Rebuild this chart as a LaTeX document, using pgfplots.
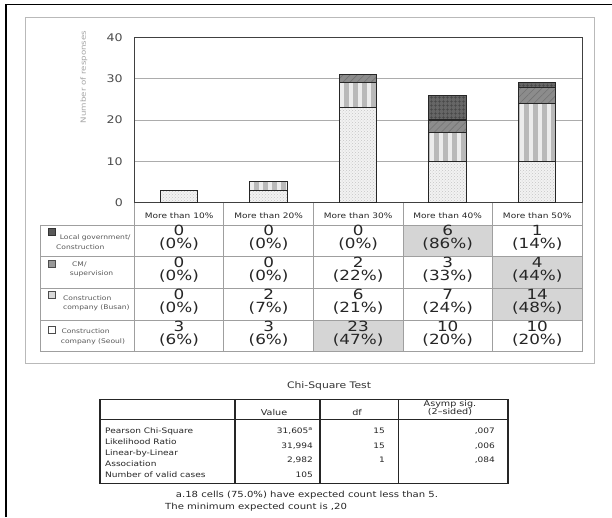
\documentclass[border=0pt]{standalone}
\usepackage{fontspec}
\setmainfont{DejaVu Sans}[FakeStretch=1.2]
\usepackage{pgfplots}
\pgfplotsset{compat=1.18}
\usetikzlibrary{patterns,patterns.meta}
\newcommand{\fs}[1]{\fontsize{#1}{#1}\selectfont}
\begin{document}
\begin{tikzpicture}
\path[use as bounding box] (0,0) rectangle (612pt,517pt);
\fill[white] (0,0) rectangle (612pt,517pt);
\begin{scope}[x=1pt,y=-1pt,yshift=517pt]
  % outer borders
  \draw[black, line width=1.2pt] (6,517) -- (6,4.5) -- (612,4.5);
  \draw[gray!55, line width=0.9pt] (25.5,17.3) rectangle (594,363);
  % shaded cells
  \fill[gray!33] (402.92,225) rectangle (492.46,256.7);
  \fill[gray!33] (492.46,256.7) rectangle (582,288.4);
  \fill[gray!33] (492.46,288.4) rectangle (582,320.1);
  \fill[gray!33] (313.38,320.1) rectangle (402.92,351.7);
  % table lines
  \begin{scope}[gray!75, line width=0.7pt]
    \foreach \yy in {225,256.7,288.4,320.1,351.7} \draw (40,\yy) -- (582,\yy);
    \draw (40,225) -- (40,351.7);
    \foreach \xx in {134.3,223.84,313.38,402.92,492.46,582} \draw (\xx,202.5) -- (\xx,351.7);
  \end{scope}
  % legend markers
  \filldraw[fill=black!65, draw=black!80, line width=0.5pt] (48,228.5) rectangle (55.5,235);
  \filldraw[fill=gray!80, draw=black!70, line width=0.5pt] (48,260.5) rectangle (55.5,267);
  \filldraw[fill=gray!30, draw=black!70, line width=0.5pt] (48,291.5) rectangle (55.5,298);
  \filldraw[fill=white, draw=black!70, line width=0.5pt] (48,326.5) rectangle (55.5,333);
  % row labels
  \begin{scope}[every node/.style={anchor=base west, inner sep=0pt, font=\fs{6.3}, text=black!65}]
    \node at (59.7,239.5) {Local government/};
    \node at (56,249.5) {Construction};
    \node at (72,266.5) {CM/};
    \node at (69.7,275.5) {supervision};
    \node at (63,300) {Construction};
    \node at (63,309.5) {company (Busan)};
    \node at (61.3,333) {Construction};
    \node at (60.7,343.5) {company (Seoul)};
  \end{scope}
  % cell values
  \begin{scope}[every node/.style={anchor=base, inner sep=0pt, font=\fs{14}, text=black!85}]
    \foreach \c/\n/\p in {0/0/0,1/0/0,2/0/0,3/6/86,4/1/14} {
      \pgfmathsetmacro\cx{179.07+89.54*\c}
      \node at (\cx,236) {\n};
      \node at (\cx,249) {(\p\%)};
    }
    \foreach \c/\n/\p in {0/0/0,1/0/0,2/2/22,3/3/33,4/4/44} {
      \pgfmathsetmacro\cx{179.07+89.54*\c}
      \node at (\cx,267.7) {\n};
      \node at (\cx,280.7) {(\p\%)};
    }
    \foreach \c/\n/\p in {0/0/0,1/2/7,2/6/21,3/7/24,4/14/48} {
      \pgfmathsetmacro\cx{179.07+89.54*\c}
      \node at (\cx,299.4) {\n};
      \node at (\cx,312.4) {(\p\%)};
    }
    \foreach \c/\n/\p in {0/3/6,1/3/6,2/23/47,3/10/20,4/10/20} {
      \pgfmathsetmacro\cx{179.07+89.54*\c}
      \node at (\cx,331.1) {\n};
      \node at (\cx,344.1) {(\p\%)};
    }
  \end{scope}
  % y label
  \node[rotate=90, font=\fs{7.2}, text=gray!70, inner sep=0pt] at (84,77) {Number of responses};
  % chi-square table
  \node[anchor=base, inner sep=0pt, font=\fs{9}, text=black!80] at (329,388.3) {Chi-Square Test};
  \draw[black!85, line width=1.6pt] (100,399.3) rectangle (507.7,483.3);
  \draw[black!85, line width=1.3pt] (100,419.3) -- (507.7,419.3);
  \foreach \xx in {235,320,398.3} \draw[black!85, line width=1.2pt] (\xx,399.3) -- (\xx,483.3);
  \begin{scope}[every node/.style={inner sep=0pt, font=\fs{8}, text=black!85}]
    \node[anchor=base] at (274,415.5) {Value};
    \node[anchor=base] at (357,415.5) {df};
    \node[anchor=base] at (450,406) {Asymp sig.};
    \node[anchor=base] at (450,414.8) {(2--sided)};
  \end{scope}
  \begin{scope}[every node/.style={inner sep=0pt, font=\fs{7.5}, text=black!85}]
    \node[anchor=base west] at (105,433.3) {Pearson Chi-Square};
    \node[anchor=base west] at (105,444.6) {Likelihood Ratio};
    \node[anchor=base west] at (105,455.6) {Linear-by-Linear};
    \node[anchor=base west] at (105,466.6) {Association};
    \node[anchor=base west] at (105,477.6) {Number of valid cases};
    \node[anchor=base east] at (313,433.3) {31,605\textsuperscript{a}};
    \node[anchor=base east] at (313,448.6) {31,994};
    \node[anchor=base east] at (313,462) {2,982};
    \node[anchor=base east] at (313,477.6) {105};
    \node[anchor=base east] at (385,433.3) {15};
    \node[anchor=base east] at (385,448.6) {15};
    \node[anchor=base east] at (385,462) {1};
    \node[anchor=base east] at (495,433.3) {,007};
    \node[anchor=base east] at (495,448.6) {,006};
    \node[anchor=base east] at (495,462) {,084};
  \end{scope}
  \node[anchor=base, inner sep=0pt, font=\fs{8.4}, text=black!85] at (307,497) {a.18 cells (75.0\%) have expected count less than 5.};
  \node[anchor=base west, inner sep=0pt, font=\fs{8.4}, text=black!85] at (165,509.7) {The minimum expected count is ,20};
\end{scope}
\begin{axis}[
  at={(134.3pt,314.5pt)}, anchor=south west,
  scale only axis, width=447.7pt, height=165pt,
  xmin=-0.5, xmax=4.5, ymin=0, ymax=40,
  ytick={0,10,20,30,40},
  xtick={0,1,2,3,4},
  xticklabels={More than 10\%,More than 20\%,More than 30\%,More than 40\%,More than 50\%},
  major tick length=0pt,
  ymajorgrids, grid style={gray!65, line width=0.8pt},
  axis line style={black!75, line width=1pt},
  ybar stacked, bar width=37.5pt,
  /pgf/number format/assume math mode=true,
  yticklabel style={font=\fs{10.5}, text=black!70, xshift=-8pt},
  xticklabel style={font=\fs{7.5}, text=black!85, anchor=center, yshift=-13.5pt},
]
\addplot[fill=gray!10, draw=black!85, line width=1pt, postaction={pattern=crosshatch dots, pattern color=gray!45}]
  coordinates {(0,3) (1,3) (2,23) (3,10) (4,10)};
\addplot[fill=gray!55, draw=black!85, line width=1pt, postaction={pattern={Lines[angle=90,distance=9pt,line width=4pt]}, pattern color=gray!15}]
  coordinates {(0,0) (1,2) (2,6) (3,7) (4,14)};
\addplot[fill=gray!90, draw=black!85, line width=1pt, postaction={pattern={Lines[angle=45,distance=5pt,line width=0.6pt]}, pattern color=black!55}]
  coordinates {(0,0) (1,0) (2,2) (3,3) (4,4)};
\addplot[fill=black!60, draw=black!85, line width=1pt, postaction={pattern={Hatch[angle=0,distance=4pt,line width=0.5pt]}, pattern color=black!72}]
  coordinates {(0,0) (1,0) (2,0) (3,6) (4,1)};
\end{axis}
\end{tikzpicture}
\end{document}
